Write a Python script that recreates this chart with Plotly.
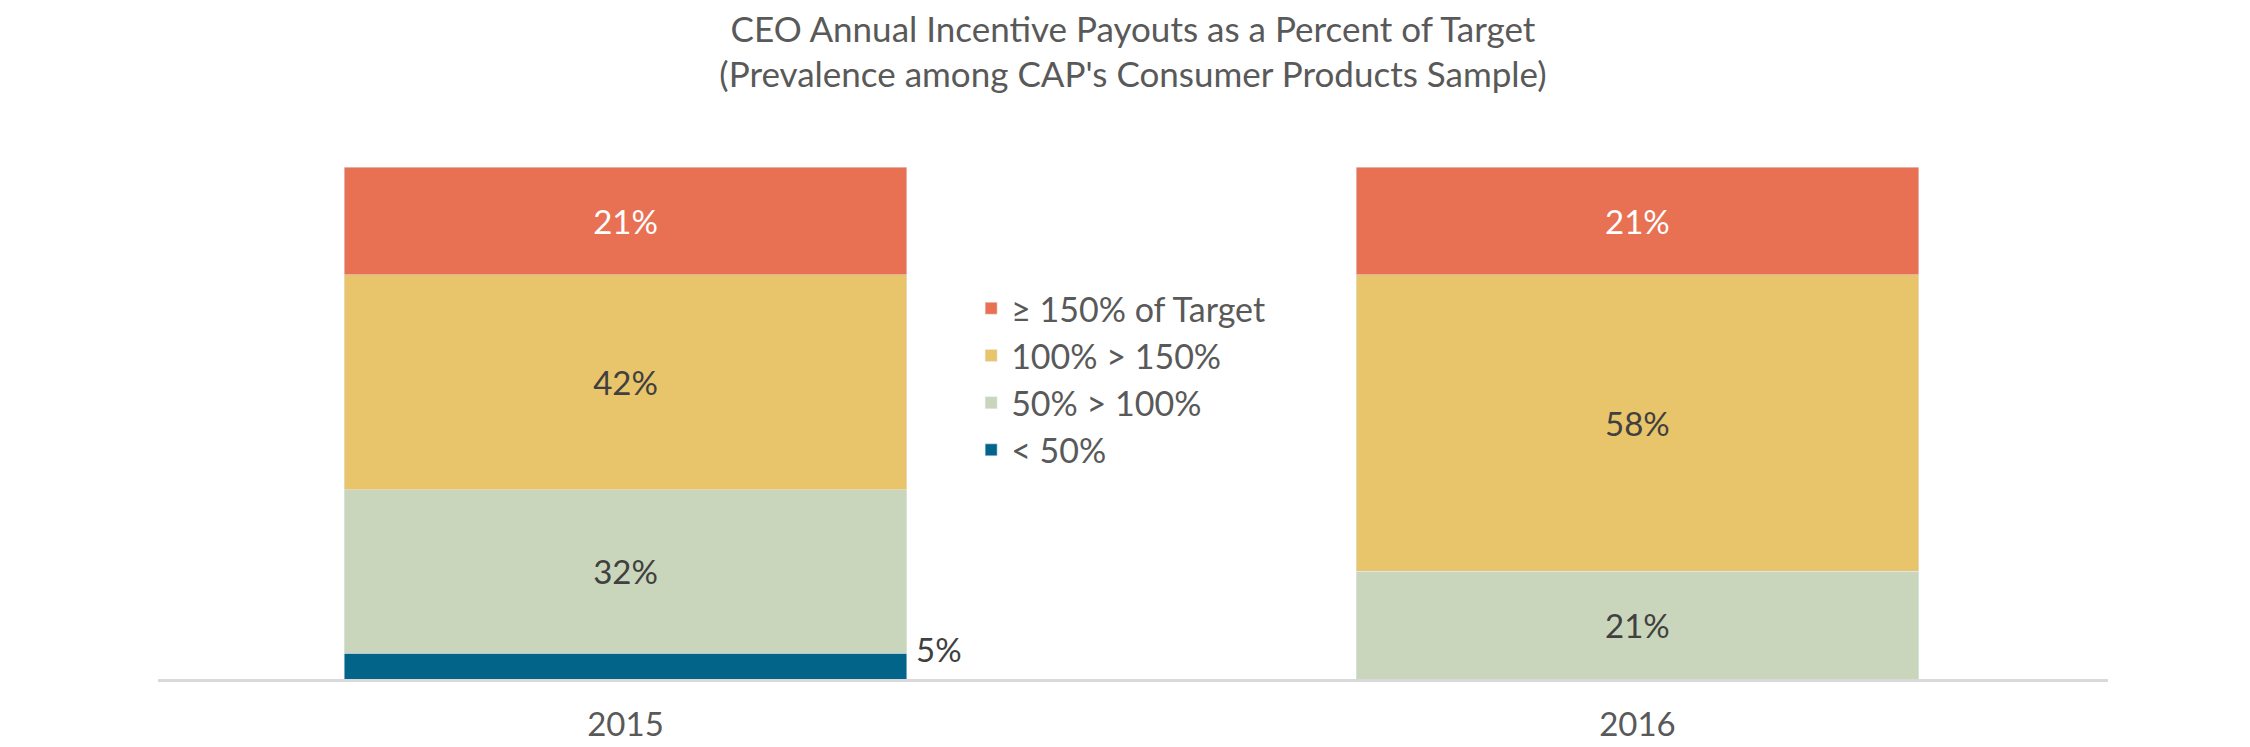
import plotly.graph_objects as go

years = ['2015', '2016']
series = ['< 50%', '50% > 100%', '100% > 150%', '≥ 150% of Target']
colors = ['#03648A', '#C9D6BC', '#E8C46B', '#E87153']
values = [[5, 0], [32, 21], [42, 58], [21, 21]]
text_colors = ['#404040', '#404040', '#404040', 'white']

fig = go.Figure()
for i, name in enumerate(series):
    labels = [f'{v}%' if v > 0 and i > 0 else '' for v in values[i]]
    fig.add_trace(go.Bar(
        x=[0, 1], y=values[i], name=name, marker_color=colors[i], width=0.556,
        text=labels, textposition='inside', insidetextanchor='middle',
        textfont=dict(size=33, color=text_colors[i]), legendgroup=name,
    ))

# small segment label sits outside the bar
fig.add_annotation(x=0.285, y=5.8, xref='x', yref='y', text=f'{values[0][0]}%',
                   showarrow=False, xanchor='left', font=dict(size=33, color='#404040'))

fig.update_layout(
    barmode='stack', width=2250, height=747,
    plot_bgcolor='white', paper_bgcolor='white',
    font=dict(family='Lato', color='#595959'),
    margin=dict(l=150, r=150, t=159, b=73),
    title=dict(text="CEO Annual Incentive Payouts as a Percent of Target<br>(Prevalence among CAP's Consumer Products Sample)",
               x=0.5, xanchor='center', y=0.955, yanchor='top', font=dict(size=35, color='#595959')),
    legend=dict(x=0.417, y=0.78, xanchor='left', yanchor='top', traceorder='reversed',
                font=dict(size=34, color='#595959'), tracegroupgap=44, bgcolor='rgba(0,0,0,0)'),
    uniformtext=dict(mode='show', minsize=10),
)
fig.update_xaxes(range=[-0.462, 1.465], tickvals=[0, 1], ticktext=years, tickfont=dict(size=33, color='#595959'),
                 showline=True, linecolor='#D9D9D9', linewidth=3, ticks='outside', ticklen=14, tickcolor='white',
                 showgrid=False, zeroline=False)
fig.update_yaxes(range=[0, 100], visible=False, showgrid=False)

fig.write_html('out.html')
